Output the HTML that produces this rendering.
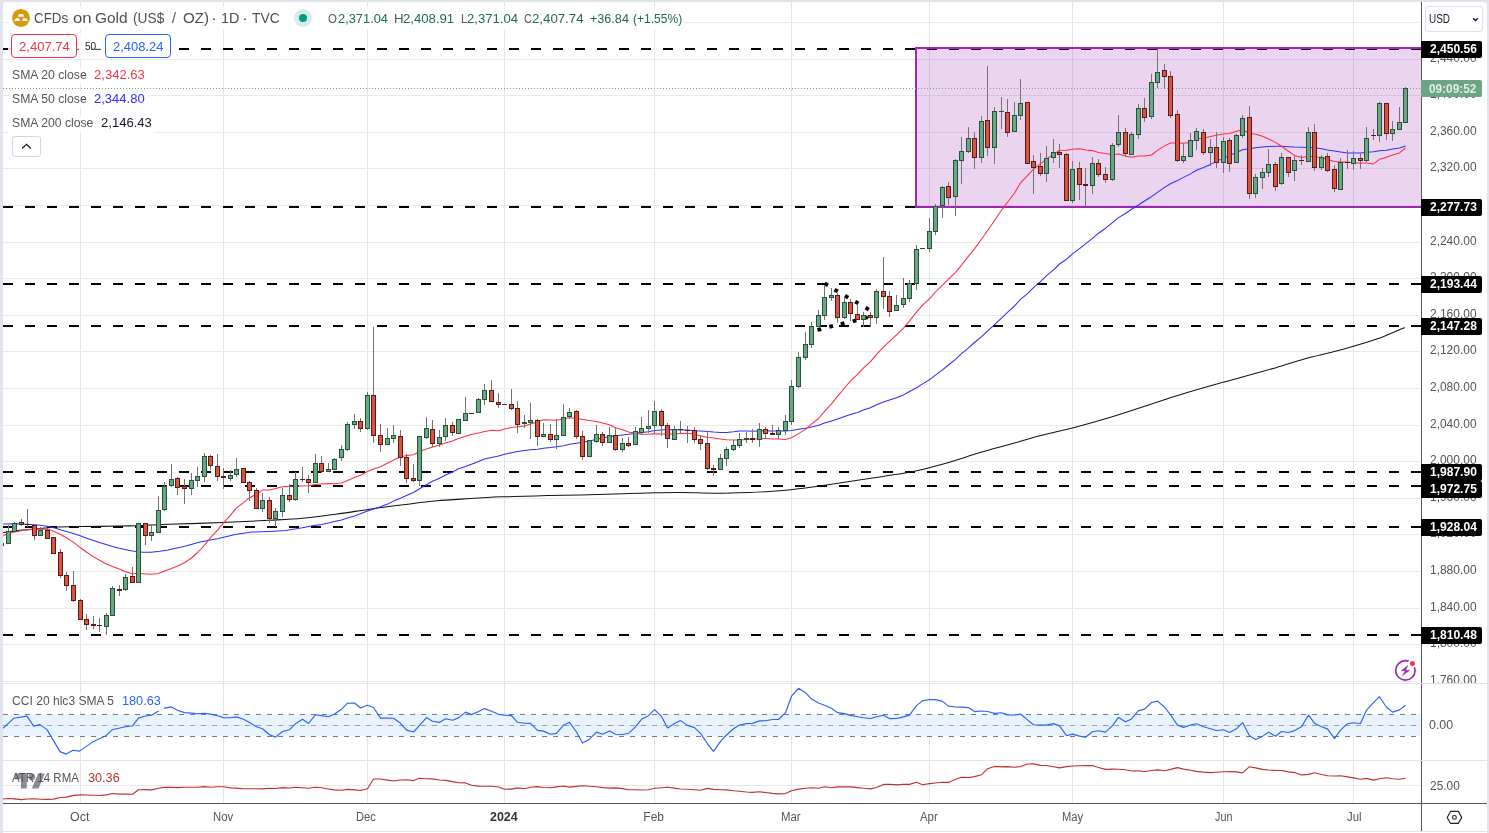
<!DOCTYPE html>
<html><head><meta charset="utf-8"><title>CFDs on Gold</title>
<style>
html,body{margin:0;padding:0;background:#e0e3eb;}
body{width:1489px;height:833px;overflow:hidden;position:relative;font-family:"Liberation Sans",sans-serif;}
#wrap{position:absolute;left:0;top:0;width:1489px;height:833px;background:#e0e3eb;overflow:hidden;}
#inner{position:absolute;left:3px;top:2px;width:1484px;height:829px;background:#fff;border-radius:3px 3px 0 0;}
#bot{position:absolute;left:3px;top:832px;width:1484px;height:1px;background:#fff;}
svg.chart{position:absolute;left:0;top:0;}
.t{position:absolute;white-space:nowrap;line-height:1;transform-origin:0 0;}
.lb{position:absolute;left:1421px;width:61px;height:17px;background:#000;border-radius:0 2px 2px 0;}
.bg{position:absolute;background:rgba(255,255,255,0.85);}
</style></head><body><div id="wrap"><div id="inner"></div><div id="bot"></div>
<svg class="chart" width="1489" height="833" viewBox="0 0 1489 833">
<defs><clipPath id="cm"><rect x="3" y="2" width="1418" height="681"/></clipPath><clipPath id="cc"><rect x="3" y="684" width="1418" height="76"/></clipPath><clipPath id="ca"><rect x="3" y="761" width="1418" height="42"/></clipPath></defs>
<g shape-rendering="crispEdges" fill="#e9e9e9">
<rect x="80" y="2" width="1" height="801" fill="#e4e4e4"/>
<rect x="223" y="2" width="1" height="801" fill="#e4e4e4"/>
<rect x="367" y="2" width="1" height="801" fill="#e4e4e4"/>
<rect x="504" y="2" width="1" height="801" fill="#e4e4e4"/>
<rect x="654" y="2" width="1" height="801" fill="#e4e4e4"/>
<rect x="791" y="2" width="1" height="801" fill="#e4e4e4"/>
<rect x="929" y="2" width="1" height="801" fill="#e4e4e4"/>
<rect x="1072" y="2" width="1" height="801" fill="#e4e4e4"/>
<rect x="1223" y="2" width="1" height="801" fill="#e4e4e4"/>
<rect x="1353" y="2" width="1" height="801" fill="#e4e4e4"/>
<rect x="3" y="681" width="1417" height="1"/>
<rect x="3" y="644" width="1417" height="1"/>
<rect x="3" y="608" width="1417" height="1"/>
<rect x="3" y="571" width="1417" height="1"/>
<rect x="3" y="534" width="1417" height="1"/>
<rect x="3" y="498" width="1417" height="1"/>
<rect x="3" y="461" width="1417" height="1"/>
<rect x="3" y="425" width="1417" height="1"/>
<rect x="3" y="388" width="1417" height="1"/>
<rect x="3" y="351" width="1417" height="1"/>
<rect x="3" y="315" width="1417" height="1"/>
<rect x="3" y="278" width="1417" height="1"/>
<rect x="3" y="242" width="1417" height="1"/>
<rect x="3" y="205" width="1417" height="1"/>
<rect x="3" y="168" width="1417" height="1"/>
<rect x="3" y="132" width="1417" height="1"/>
<rect x="3" y="95" width="1417" height="1"/>
<rect x="3" y="59" width="1417" height="1"/>
<rect x="3" y="22" width="1417" height="1"/>
<rect x="3" y="785" width="1418" height="1"/>
</g>
<rect x="3" y="714" width="1418" height="22" fill="#e8f3fd"/>
<rect x="3" y="725" width="1417" height="1" fill="#e4e6ea" shape-rendering="crispEdges"/>
<line x1="3" x2="1420" y1="714.5" y2="714.5" stroke="#787b86" stroke-width="1" stroke-dasharray="5 6" shape-rendering="crispEdges"/>
<line x1="3" x2="1420" y1="725.5" y2="725.5" stroke="#9a9da6" stroke-width="1" stroke-dasharray="5 6" shape-rendering="crispEdges"/>
<line x1="3" x2="1420" y1="736.5" y2="736.5" stroke="#787b86" stroke-width="1" stroke-dasharray="5 6" shape-rendering="crispEdges"/>
<g clip-path="url(#cm)">
<line x1="3" x2="1421" y1="49" y2="49" stroke="#000" stroke-width="2" stroke-dasharray="10 12" shape-rendering="crispEdges"/>
<line x1="3" x2="1421" y1="207" y2="207" stroke="#000" stroke-width="2" stroke-dasharray="10 12" shape-rendering="crispEdges"/>
<line x1="3" x2="1421" y1="284" y2="284" stroke="#000" stroke-width="2" stroke-dasharray="10 12" shape-rendering="crispEdges"/>
<line x1="3" x2="1421" y1="326" y2="326" stroke="#000" stroke-width="2" stroke-dasharray="10 12" shape-rendering="crispEdges"/>
<line x1="3" x2="1421" y1="472" y2="472" stroke="#000" stroke-width="2" stroke-dasharray="10 12" shape-rendering="crispEdges"/>
<line x1="3" x2="1421" y1="486" y2="486" stroke="#000" stroke-width="2" stroke-dasharray="10 12" shape-rendering="crispEdges"/>
<line x1="3" x2="1421" y1="527" y2="527" stroke="#000" stroke-width="2" stroke-dasharray="10 12" shape-rendering="crispEdges"/>
<line x1="3" x2="1421" y1="635" y2="635" stroke="#000" stroke-width="2" stroke-dasharray="10 12" shape-rendering="crispEdges"/>
<rect x="916" y="48" width="525" height="159" fill="rgba(156,39,176,0.2)" stroke="#9c27b0" stroke-width="2" shape-rendering="crispEdges"/>
<line x1="3" x2="1421" y1="88.5" y2="88.5" stroke="#6BA583" stroke-width="1" stroke-dasharray="1 2" shape-rendering="crispEdges"/>
<rect x="824.4" y="282.4" width="3.8" height="3.8" fill="#000" transform="rotate(30.7 826.3 284.3)"/>
<rect x="834.3" y="288.6" width="3.8" height="3.8" fill="#000" transform="rotate(30.7 836.2 290.5)"/>
<rect x="844.7" y="294.8" width="3.8" height="3.8" fill="#000" transform="rotate(30.7 846.6 296.7)"/>
<rect x="854.9" y="300.6" width="3.8" height="3.8" fill="#000" transform="rotate(30.7 856.8 302.5)"/>
<rect x="865.3" y="306.7" width="3.8" height="3.8" fill="#000" transform="rotate(30.7 867.2 308.6)"/>
<rect x="817.4" y="327.6" width="3.8" height="3.8" fill="#000" transform="rotate(-14.2 819.3 329.5)"/>
<rect x="829.3" y="324.5" width="3.8" height="3.8" fill="#000" transform="rotate(-14.2 831.2 326.4)"/>
<rect x="840.7" y="321.7" width="3.8" height="3.8" fill="#000" transform="rotate(-14.2 842.6 323.6)"/>
<rect x="852.6" y="318.9" width="3.8" height="3.8" fill="#000" transform="rotate(-14.2 854.5 320.8)"/>
<rect x="864.1" y="315.8" width="3.8" height="3.8" fill="#000" transform="rotate(-14.2 866 317.7)"/>
<path d="M3.0 532.6 C4.2 532.4 7.2 532.0 10.0 531.6 C12.8 531.2 16.3 530.7 20.0 530.3 C23.7 529.9 27.8 529.6 32.0 529.2 C36.2 528.8 40.9 528.4 45.0 528.0 C49.1 527.6 50.7 527.2 56.5 527.0 C62.3 526.8 69.4 526.8 80.0 526.6 C90.6 526.5 110.9 526.2 120.0 526.1 C129.1 526.0 126.4 526.0 134.4 525.7 C142.4 525.4 153.4 524.8 168.0 524.3 C182.6 523.8 205.0 523.3 221.8 522.6 C238.6 521.9 255.4 521.0 268.8 520.3 C282.2 519.6 291.2 519.3 302.4 518.3 C313.6 517.3 324.8 515.7 336.0 514.2 C347.2 512.7 358.4 510.8 369.6 509.2 C380.8 507.6 392.0 506.2 403.2 504.8 C414.4 503.4 425.6 501.9 436.8 500.8 C448.0 499.8 459.9 499.2 470.4 498.5 C480.9 497.8 492.8 497.1 500.0 496.8 C507.2 496.5 505.7 496.8 513.6 496.6 C521.5 496.4 536.0 495.9 547.2 495.6 C558.4 495.3 569.6 495.2 580.8 494.9 C592.0 494.6 603.2 494.2 614.4 493.9 C625.6 493.6 636.8 493.1 648.0 492.9 C659.2 492.7 670.4 492.4 681.6 492.5 C692.8 492.6 704.0 493.2 715.2 493.2 C726.4 493.2 737.6 492.9 748.8 492.5 C760.0 492.1 771.2 491.5 782.4 490.5 C793.6 489.5 804.8 488.0 816.0 486.5 C827.2 485.0 838.4 483.2 849.6 481.5 C860.8 479.8 872.0 478.2 883.2 476.4 C894.4 474.6 905.6 473.1 916.8 470.7 C928.0 468.3 939.9 465.0 950.4 462.0 C960.9 459.0 970.5 455.4 980.0 452.6 C989.5 449.8 997.1 447.8 1007.2 445.0 C1017.3 442.2 1029.6 438.5 1040.8 435.6 C1052.0 432.7 1063.2 430.4 1074.4 427.5 C1085.6 424.6 1096.8 421.5 1108.0 418.1 C1119.2 414.7 1130.4 411.0 1141.6 407.3 C1152.8 403.6 1164.0 399.7 1175.2 396.2 C1186.4 392.7 1197.6 389.4 1208.8 386.2 C1220.0 383.0 1231.2 380.2 1242.4 377.1 C1253.6 374.0 1264.8 370.9 1276.0 367.7 C1287.2 364.4 1298.4 360.7 1309.6 357.6 C1320.8 354.5 1332.0 352.3 1343.2 349.2 C1354.4 346.1 1366.5 342.7 1376.8 339.1 C1387.0 335.5 1400.0 329.3 1404.7 327.4" fill="none" stroke="#131313" stroke-width="1.05"/>
<polyline points="3.2,523.9 16.0,523.7 28.0,524.2 40.0,525.2 48.4,526.4 56.5,528.4 61.1,530.0 70.0,532.6 79.6,535.5 86.0,537.9 92.8,540.3 99.5,542.5 106.0,544.5 112.5,546.4 119.3,548.2 126.0,549.7 132.5,550.9 136.4,551.4 142.9,552.3 151.3,552.3 159.7,551.3 168.0,549.9 184.9,546.2 200.0,542.0 218.4,538.4 235.2,534.4 252.0,532.1 268.8,531.4 285.6,530.4 302.4,527.7 314.0,525.4 321.5,524.4 328.5,522.9 334.5,521.5 341.5,520.0 347.5,518.0 354.5,515.9 360.5,513.8 367.5,511.1 373.5,509.0 380.5,506.8 387.5,504.1 393.5,501.1 400.5,498.2 406.5,495.4 413.5,492.5 419.5,488.7 426.5,484.8 432.5,481.3 439.5,478.3 445.5,475.0 452.5,472.1 458.5,468.8 465.5,466.6 471.5,464.2 478.5,461.5 484.5,459.1 491.5,457.4 498.5,455.9 504.5,454.3 511.5,452.7 517.5,451.6 524.5,450.5 530.5,449.8 537.5,449.2 543.5,448.3 550.5,447.6 556.5,446.8 563.5,445.7 569.5,444.3 576.5,443.2 582.5,442.2 589.5,441.0 596.5,439.3 602.5,437.9 609.5,436.7 615.5,435.7 622.5,435.0 628.5,434.3 635.5,433.3 641.5,432.6 648.5,431.7 654.5,430.5 661.5,429.9 667.5,429.6 674.5,429.7 680.5,429.9 687.5,430.0 694.5,430.8 700.5,431.0 707.5,431.5 713.5,432.1 720.5,432.6 726.5,432.4 733.5,431.7 739.5,430.9 746.5,431.0 752.5,431.2 759.5,430.9 765.5,430.8 772.5,431.0 778.5,431.0 785.5,431.0 791.5,430.5 798.5,429.3 805.5,428.2 811.5,427.0 818.5,425.2 824.5,423.1 831.5,420.9 837.5,419.1 844.5,416.6 850.5,414.5 857.5,412.5 863.5,410.0 870.5,407.7 876.5,404.7 883.5,402.0 889.5,399.9 896.5,397.7 903.5,394.9 909.5,391.5 916.5,387.7 922.5,383.9 929.5,379.7 935.5,375.1 942.5,369.9 948.5,365.0 955.5,359.3 961.5,353.7 968.5,347.9 974.5,342.5 981.5,336.7 987.5,331.1 994.5,324.6 1001.5,318.2 1007.5,312.3 1014.5,306.0 1020.5,299.3 1027.5,293.7 1033.5,287.6 1040.5,281.7 1046.5,275.7 1053.5,269.8 1059.5,264.0 1066.5,259.2 1072.5,253.8 1079.5,248.7 1085.5,243.8 1092.5,238.4 1098.5,233.2 1105.5,228.2 1112.5,222.7 1118.5,217.6 1125.5,213.5 1131.5,209.3 1138.5,205.0 1144.5,201.0 1151.5,196.7 1157.5,192.3 1164.5,187.4 1170.5,183.7 1177.5,180.6 1183.5,177.4 1190.5,173.9 1196.5,170.2 1203.5,167.4 1210.5,164.4 1216.5,161.4 1223.5,158.1 1229.5,155.4 1236.5,152.5 1242.5,149.8 1249.5,148.7 1255.5,147.7 1262.5,147.0 1268.5,146.5 1275.5,146.3 1281.5,146.3 1288.5,146.7 1294.5,147.1 1301.5,147.2 1308.5,147.4 1314.5,147.8 1321.5,148.7 1327.5,149.9 1334.5,151.0 1340.5,152.0 1347.5,153.1 1353.5,153.0 1360.5,152.9 1366.5,152.2 1373.5,151.7 1379.5,150.8 1386.5,150.3 1392.5,148.9 1399.5,148.0 1405.5,146.0" fill="none" stroke="#2e2eff" stroke-width="1.05" stroke-linejoin="round"/>
<polyline points="3.2,535.6 12.0,532.4 24.0,530.2 32.0,529.2 40.0,529.0 46.0,529.3 50.6,530.0 59.8,534.0 66.5,537.8 73.0,541.9 79.6,547.2 86.0,551.8 92.8,556.4 99.5,560.3 106.0,563.7 112.5,566.5 119.3,569.0 125.5,571.8 132.5,573.7 138.5,573.3 145.5,573.9 151.5,574.3 158.5,573.6 164.5,571.1 171.5,568.5 177.5,566.0 184.5,562.8 191.5,558.0 197.5,552.5 204.5,545.3 210.5,537.6 217.5,530.2 223.5,522.8 230.5,515.2 236.5,507.9 243.5,502.7 249.5,497.7 256.5,494.2 262.5,490.1 269.5,489.9 275.5,488.6 282.5,486.8 289.5,486.2 295.5,485.9 302.5,485.9 308.5,485.7 315.5,484.4 321.5,484.0 328.5,483.6 334.5,483.8 341.5,483.0 347.5,480.4 354.5,477.6 360.5,475.2 367.5,471.5 373.5,469.1 380.5,466.8 387.5,463.3 393.5,460.1 400.5,457.0 406.5,455.4 413.5,454.7 419.5,451.5 426.5,448.9 432.5,447.1 439.5,444.9 445.5,443.0 452.5,441.0 458.5,438.5 465.5,436.2 471.5,434.4 478.5,433.1 484.5,431.6 491.5,430.2 498.5,430.7 504.5,429.1 511.5,427.4 517.5,426.7 524.5,426.0 530.5,424.1 537.5,422.0 543.5,419.7 550.5,419.9 556.5,420.2 563.5,418.9 569.5,417.7 576.5,418.2 582.5,419.4 589.5,420.5 596.5,421.5 602.5,423.0 609.5,424.8 615.5,427.8 622.5,429.8 628.5,431.9 635.5,433.2 641.5,434.2 648.5,434.3 654.5,433.8 661.5,434.0 667.5,434.1 674.5,433.9 680.5,433.4 687.5,433.2 694.5,434.3 700.5,435.8 707.5,437.4 713.5,438.1 720.5,439.0 726.5,439.8 733.5,439.9 739.5,440.1 746.5,439.5 752.5,439.3 759.5,438.5 765.5,438.6 772.5,439.0 778.5,439.1 785.5,439.6 791.5,437.7 798.5,433.6 805.5,429.4 811.5,424.2 818.5,418.5 824.5,411.3 831.5,403.9 837.5,396.4 844.5,388.0 850.5,380.8 857.5,374.3 863.5,367.8 870.5,361.7 876.5,354.3 883.5,347.2 889.5,341.3 896.5,334.9 903.5,328.1 909.5,320.8 916.5,312.1 922.5,305.2 929.5,298.9 935.5,292.0 942.5,285.1 948.5,279.2 955.5,272.3 961.5,265.1 968.5,256.1 974.5,248.9 981.5,239.3 987.5,230.7 994.5,220.5 1001.5,210.2 1007.5,202.2 1014.5,193.2 1020.5,182.8 1027.5,175.7 1033.5,169.2 1040.5,163.7 1046.5,159.1 1053.5,154.3 1059.5,150.5 1066.5,150.2 1072.5,149.3 1079.5,148.7 1085.5,149.9 1092.5,150.6 1098.5,152.4 1105.5,153.5 1112.5,154.7 1118.5,153.9 1125.5,156.0 1131.5,157.2 1138.5,156.0 1144.5,156.1 1151.5,155.0 1157.5,150.4 1164.5,145.9 1170.5,143.0 1177.5,143.1 1183.5,143.3 1190.5,142.6 1196.5,139.1 1203.5,138.3 1210.5,136.4 1216.5,135.2 1223.5,134.1 1229.5,133.6 1236.5,131.3 1242.5,130.0 1249.5,133.1 1255.5,134.3 1262.5,136.2 1268.5,138.9 1275.5,142.4 1281.5,146.2 1288.5,151.2 1294.5,155.4 1301.5,157.6 1308.5,156.2 1314.5,156.8 1321.5,157.6 1327.5,159.6 1334.5,161.4 1340.5,162.1 1347.5,162.1 1353.5,163.0 1360.5,162.9 1366.5,163.0 1373.5,163.9 1379.5,159.3 1386.5,157.2 1392.5,155.0 1399.5,152.9 1405.5,148.0" fill="none" stroke="#ff2d42" stroke-width="1.05" stroke-linejoin="round"/>
<g shape-rendering="crispEdges">
<rect x="-1" y="543" width="5" height="3" fill="#225437"/>
<rect x="0" y="544" width="3" height="1" fill="#6BA583"/>
<rect x="8" y="525" width="1" height="19" fill="#737375"/>
<rect x="6" y="531" width="5" height="13" fill="#225437"/>
<rect x="7" y="532" width="3" height="11" fill="#6BA583"/>
<rect x="14" y="522" width="1" height="10" fill="#737375"/>
<rect x="12" y="523" width="5" height="9" fill="#225437"/>
<rect x="13" y="524" width="3" height="7" fill="#6BA583"/>
<rect x="21" y="519" width="1" height="7" fill="#737375"/>
<rect x="19" y="522" width="5" height="3" fill="#5B1A13"/>
<rect x="20" y="523" width="3" height="1" fill="#D75442"/>
<rect x="27" y="509" width="1" height="18" fill="#737375"/>
<rect x="25" y="524" width="5" height="1" fill="#5B1A13"/>
<rect x="34" y="524" width="1" height="16" fill="#737375"/>
<rect x="32" y="525" width="5" height="11" fill="#5B1A13"/>
<rect x="33" y="526" width="3" height="9" fill="#D75442"/>
<rect x="40" y="527" width="1" height="9" fill="#737375"/>
<rect x="38" y="530" width="5" height="6" fill="#225437"/>
<rect x="39" y="531" width="3" height="4" fill="#6BA583"/>
<rect x="47" y="528" width="1" height="11" fill="#737375"/>
<rect x="45" y="530" width="5" height="9" fill="#5B1A13"/>
<rect x="46" y="531" width="3" height="7" fill="#D75442"/>
<rect x="51" y="537" width="5" height="17" fill="#5B1A13"/>
<rect x="52" y="538" width="3" height="15" fill="#D75442"/>
<rect x="60" y="549" width="1" height="29" fill="#737375"/>
<rect x="58" y="552" width="5" height="24" fill="#5B1A13"/>
<rect x="59" y="553" width="3" height="22" fill="#D75442"/>
<rect x="66" y="572" width="1" height="19" fill="#737375"/>
<rect x="64" y="575" width="5" height="11" fill="#5B1A13"/>
<rect x="65" y="576" width="3" height="9" fill="#D75442"/>
<rect x="73" y="571" width="1" height="31" fill="#737375"/>
<rect x="71" y="585" width="5" height="16" fill="#5B1A13"/>
<rect x="72" y="586" width="3" height="14" fill="#D75442"/>
<rect x="80" y="599" width="1" height="21" fill="#737375"/>
<rect x="78" y="600" width="5" height="20" fill="#5B1A13"/>
<rect x="79" y="601" width="3" height="18" fill="#D75442"/>
<rect x="86" y="614" width="1" height="16" fill="#737375"/>
<rect x="84" y="619" width="5" height="6" fill="#5B1A13"/>
<rect x="85" y="620" width="3" height="4" fill="#D75442"/>
<rect x="93" y="616" width="1" height="13" fill="#737375"/>
<rect x="91" y="624" width="5" height="2" fill="#5B1A13"/>
<rect x="99" y="618" width="1" height="14" fill="#737375"/>
<rect x="97" y="625" width="5" height="1" fill="#5B1A13"/>
<rect x="106" y="613" width="1" height="22" fill="#737375"/>
<rect x="104" y="615" width="5" height="12" fill="#225437"/>
<rect x="105" y="616" width="3" height="10" fill="#6BA583"/>
<rect x="112" y="586" width="1" height="30" fill="#737375"/>
<rect x="110" y="588" width="5" height="28" fill="#225437"/>
<rect x="111" y="589" width="3" height="26" fill="#6BA583"/>
<rect x="119" y="585" width="1" height="11" fill="#737375"/>
<rect x="117" y="589" width="5" height="2" fill="#5B1A13"/>
<rect x="125" y="574" width="1" height="17" fill="#737375"/>
<rect x="123" y="577" width="5" height="13" fill="#225437"/>
<rect x="124" y="578" width="3" height="11" fill="#6BA583"/>
<rect x="132" y="567" width="1" height="16" fill="#737375"/>
<rect x="130" y="576" width="5" height="7" fill="#5B1A13"/>
<rect x="131" y="577" width="3" height="5" fill="#D75442"/>
<rect x="136" y="523" width="5" height="60" fill="#225437"/>
<rect x="137" y="524" width="3" height="58" fill="#6BA583"/>
<rect x="145" y="523" width="1" height="22" fill="#737375"/>
<rect x="143" y="523" width="5" height="13" fill="#5B1A13"/>
<rect x="144" y="524" width="3" height="11" fill="#D75442"/>
<rect x="151" y="524" width="1" height="17" fill="#737375"/>
<rect x="149" y="532" width="5" height="4" fill="#225437"/>
<rect x="150" y="533" width="3" height="2" fill="#6BA583"/>
<rect x="158" y="496" width="1" height="37" fill="#737375"/>
<rect x="156" y="510" width="5" height="23" fill="#225437"/>
<rect x="157" y="511" width="3" height="21" fill="#6BA583"/>
<rect x="164" y="482" width="1" height="29" fill="#737375"/>
<rect x="162" y="486" width="5" height="24" fill="#225437"/>
<rect x="163" y="487" width="3" height="22" fill="#6BA583"/>
<rect x="171" y="464" width="1" height="23" fill="#737375"/>
<rect x="169" y="479" width="5" height="7" fill="#225437"/>
<rect x="170" y="480" width="3" height="5" fill="#6BA583"/>
<rect x="177" y="477" width="1" height="18" fill="#737375"/>
<rect x="175" y="478" width="5" height="10" fill="#5B1A13"/>
<rect x="176" y="479" width="3" height="8" fill="#D75442"/>
<rect x="184" y="479" width="1" height="25" fill="#737375"/>
<rect x="182" y="486" width="5" height="3" fill="#5B1A13"/>
<rect x="183" y="487" width="3" height="1" fill="#D75442"/>
<rect x="191" y="473" width="1" height="22" fill="#737375"/>
<rect x="189" y="480" width="5" height="9" fill="#225437"/>
<rect x="190" y="481" width="3" height="7" fill="#6BA583"/>
<rect x="197" y="467" width="1" height="20" fill="#737375"/>
<rect x="195" y="476" width="5" height="5" fill="#225437"/>
<rect x="196" y="477" width="3" height="3" fill="#6BA583"/>
<rect x="204" y="453" width="1" height="29" fill="#737375"/>
<rect x="202" y="456" width="5" height="21" fill="#225437"/>
<rect x="203" y="457" width="3" height="19" fill="#6BA583"/>
<rect x="210" y="455" width="1" height="15" fill="#737375"/>
<rect x="208" y="456" width="5" height="10" fill="#5B1A13"/>
<rect x="209" y="457" width="3" height="8" fill="#D75442"/>
<rect x="217" y="454" width="1" height="27" fill="#737375"/>
<rect x="215" y="466" width="5" height="11" fill="#5B1A13"/>
<rect x="216" y="467" width="3" height="9" fill="#D75442"/>
<rect x="223" y="468" width="1" height="21" fill="#737375"/>
<rect x="221" y="476" width="5" height="2" fill="#5B1A13"/>
<rect x="230" y="470" width="1" height="11" fill="#737375"/>
<rect x="228" y="475" width="5" height="4" fill="#225437"/>
<rect x="229" y="476" width="3" height="2" fill="#6BA583"/>
<rect x="236" y="458" width="1" height="19" fill="#737375"/>
<rect x="234" y="469" width="5" height="6" fill="#225437"/>
<rect x="235" y="470" width="3" height="4" fill="#6BA583"/>
<rect x="241" y="468" width="5" height="15" fill="#5B1A13"/>
<rect x="242" y="469" width="3" height="13" fill="#D75442"/>
<rect x="249" y="481" width="1" height="20" fill="#737375"/>
<rect x="247" y="482" width="5" height="9" fill="#5B1A13"/>
<rect x="248" y="483" width="3" height="7" fill="#D75442"/>
<rect x="256" y="488" width="1" height="21" fill="#737375"/>
<rect x="254" y="490" width="5" height="19" fill="#5B1A13"/>
<rect x="255" y="491" width="3" height="17" fill="#D75442"/>
<rect x="262" y="493" width="1" height="19" fill="#737375"/>
<rect x="260" y="500" width="5" height="9" fill="#225437"/>
<rect x="261" y="501" width="3" height="7" fill="#6BA583"/>
<rect x="269" y="497" width="1" height="26" fill="#737375"/>
<rect x="267" y="500" width="5" height="19" fill="#5B1A13"/>
<rect x="268" y="501" width="3" height="17" fill="#D75442"/>
<rect x="275" y="508" width="1" height="19" fill="#737375"/>
<rect x="273" y="511" width="5" height="8" fill="#225437"/>
<rect x="274" y="512" width="3" height="6" fill="#6BA583"/>
<rect x="282" y="488" width="1" height="29" fill="#737375"/>
<rect x="280" y="495" width="5" height="17" fill="#225437"/>
<rect x="281" y="496" width="3" height="15" fill="#6BA583"/>
<rect x="289" y="484" width="1" height="18" fill="#737375"/>
<rect x="287" y="495" width="5" height="5" fill="#5B1A13"/>
<rect x="288" y="496" width="3" height="3" fill="#D75442"/>
<rect x="295" y="472" width="1" height="29" fill="#737375"/>
<rect x="293" y="479" width="5" height="21" fill="#225437"/>
<rect x="294" y="480" width="3" height="19" fill="#6BA583"/>
<rect x="302" y="467" width="1" height="15" fill="#737375"/>
<rect x="300" y="479" width="5" height="1" fill="#5B1A13"/>
<rect x="308" y="475" width="1" height="18" fill="#737375"/>
<rect x="306" y="479" width="5" height="4" fill="#5B1A13"/>
<rect x="307" y="480" width="3" height="2" fill="#D75442"/>
<rect x="315" y="454" width="1" height="29" fill="#737375"/>
<rect x="313" y="463" width="5" height="20" fill="#225437"/>
<rect x="314" y="464" width="3" height="18" fill="#6BA583"/>
<rect x="321" y="456" width="1" height="17" fill="#737375"/>
<rect x="319" y="463" width="5" height="9" fill="#5B1A13"/>
<rect x="320" y="464" width="3" height="7" fill="#D75442"/>
<rect x="328" y="463" width="1" height="9" fill="#737375"/>
<rect x="326" y="469" width="5" height="3" fill="#225437"/>
<rect x="327" y="470" width="3" height="1" fill="#6BA583"/>
<rect x="334" y="458" width="1" height="12" fill="#737375"/>
<rect x="332" y="459" width="5" height="11" fill="#225437"/>
<rect x="333" y="460" width="3" height="9" fill="#6BA583"/>
<rect x="341" y="445" width="1" height="16" fill="#737375"/>
<rect x="339" y="449" width="5" height="9" fill="#225437"/>
<rect x="340" y="450" width="3" height="7" fill="#6BA583"/>
<rect x="347" y="422" width="1" height="29" fill="#737375"/>
<rect x="345" y="424" width="5" height="26" fill="#225437"/>
<rect x="346" y="425" width="3" height="24" fill="#6BA583"/>
<rect x="354" y="414" width="1" height="15" fill="#737375"/>
<rect x="352" y="421" width="5" height="4" fill="#225437"/>
<rect x="353" y="422" width="3" height="2" fill="#6BA583"/>
<rect x="360" y="418" width="1" height="14" fill="#737375"/>
<rect x="358" y="421" width="5" height="8" fill="#5B1A13"/>
<rect x="359" y="422" width="3" height="6" fill="#D75442"/>
<rect x="367" y="392" width="1" height="38" fill="#737375"/>
<rect x="365" y="395" width="5" height="34" fill="#225437"/>
<rect x="366" y="396" width="3" height="32" fill="#6BA583"/>
<rect x="373" y="327" width="1" height="116" fill="#737375"/>
<rect x="371" y="395" width="5" height="41" fill="#5B1A13"/>
<rect x="372" y="396" width="3" height="39" fill="#D75442"/>
<rect x="380" y="424" width="1" height="28" fill="#737375"/>
<rect x="378" y="435" width="5" height="10" fill="#5B1A13"/>
<rect x="379" y="436" width="3" height="8" fill="#D75442"/>
<rect x="387" y="428" width="1" height="17" fill="#737375"/>
<rect x="385" y="438" width="5" height="7" fill="#225437"/>
<rect x="386" y="439" width="3" height="5" fill="#6BA583"/>
<rect x="393" y="425" width="1" height="18" fill="#737375"/>
<rect x="391" y="435" width="5" height="4" fill="#225437"/>
<rect x="392" y="436" width="3" height="2" fill="#6BA583"/>
<rect x="400" y="430" width="1" height="36" fill="#737375"/>
<rect x="398" y="436" width="5" height="22" fill="#5B1A13"/>
<rect x="399" y="437" width="3" height="20" fill="#D75442"/>
<rect x="406" y="454" width="1" height="29" fill="#737375"/>
<rect x="404" y="457" width="5" height="22" fill="#5B1A13"/>
<rect x="405" y="458" width="3" height="20" fill="#D75442"/>
<rect x="413" y="464" width="1" height="18" fill="#737375"/>
<rect x="411" y="478" width="5" height="3" fill="#5B1A13"/>
<rect x="412" y="479" width="3" height="1" fill="#D75442"/>
<rect x="419" y="436" width="1" height="50" fill="#737375"/>
<rect x="417" y="436" width="5" height="45" fill="#225437"/>
<rect x="418" y="437" width="3" height="43" fill="#6BA583"/>
<rect x="426" y="417" width="1" height="22" fill="#737375"/>
<rect x="424" y="428" width="5" height="10" fill="#225437"/>
<rect x="425" y="429" width="3" height="8" fill="#6BA583"/>
<rect x="432" y="420" width="1" height="27" fill="#737375"/>
<rect x="430" y="429" width="5" height="15" fill="#5B1A13"/>
<rect x="431" y="430" width="3" height="13" fill="#D75442"/>
<rect x="439" y="430" width="1" height="17" fill="#737375"/>
<rect x="437" y="437" width="5" height="7" fill="#225437"/>
<rect x="438" y="438" width="3" height="5" fill="#6BA583"/>
<rect x="445" y="418" width="1" height="23" fill="#737375"/>
<rect x="443" y="425" width="5" height="12" fill="#225437"/>
<rect x="444" y="426" width="3" height="10" fill="#6BA583"/>
<rect x="452" y="422" width="1" height="14" fill="#737375"/>
<rect x="450" y="425" width="5" height="8" fill="#5B1A13"/>
<rect x="451" y="426" width="3" height="6" fill="#D75442"/>
<rect x="456" y="419" width="5" height="15" fill="#225437"/>
<rect x="457" y="420" width="3" height="13" fill="#6BA583"/>
<rect x="465" y="397" width="1" height="24" fill="#737375"/>
<rect x="463" y="413" width="5" height="8" fill="#225437"/>
<rect x="464" y="414" width="3" height="6" fill="#6BA583"/>
<rect x="469" y="413" width="5" height="1" fill="#5B1A13"/>
<rect x="478" y="398" width="1" height="15" fill="#737375"/>
<rect x="476" y="399" width="5" height="14" fill="#225437"/>
<rect x="477" y="400" width="3" height="12" fill="#6BA583"/>
<rect x="484" y="384" width="1" height="21" fill="#737375"/>
<rect x="482" y="390" width="5" height="10" fill="#225437"/>
<rect x="483" y="391" width="3" height="8" fill="#6BA583"/>
<rect x="491" y="380" width="1" height="22" fill="#737375"/>
<rect x="489" y="390" width="5" height="12" fill="#5B1A13"/>
<rect x="490" y="391" width="3" height="10" fill="#D75442"/>
<rect x="498" y="393" width="1" height="15" fill="#737375"/>
<rect x="496" y="402" width="5" height="3" fill="#5B1A13"/>
<rect x="497" y="403" width="3" height="1" fill="#D75442"/>
<rect x="502" y="404" width="5" height="1" fill="#225437"/>
<rect x="511" y="389" width="1" height="21" fill="#737375"/>
<rect x="509" y="404" width="5" height="5" fill="#5B1A13"/>
<rect x="510" y="405" width="3" height="3" fill="#D75442"/>
<rect x="517" y="401" width="1" height="32" fill="#737375"/>
<rect x="515" y="408" width="5" height="17" fill="#5B1A13"/>
<rect x="516" y="409" width="3" height="15" fill="#D75442"/>
<rect x="524" y="415" width="1" height="13" fill="#737375"/>
<rect x="522" y="422" width="5" height="2" fill="#225437"/>
<rect x="530" y="403" width="1" height="36" fill="#737375"/>
<rect x="528" y="420" width="5" height="3" fill="#225437"/>
<rect x="529" y="421" width="3" height="1" fill="#6BA583"/>
<rect x="537" y="419" width="1" height="27" fill="#737375"/>
<rect x="535" y="420" width="5" height="17" fill="#5B1A13"/>
<rect x="536" y="421" width="3" height="15" fill="#D75442"/>
<rect x="543" y="423" width="1" height="14" fill="#737375"/>
<rect x="541" y="434" width="5" height="3" fill="#225437"/>
<rect x="542" y="435" width="3" height="1" fill="#6BA583"/>
<rect x="550" y="424" width="1" height="18" fill="#737375"/>
<rect x="548" y="434" width="5" height="6" fill="#5B1A13"/>
<rect x="549" y="435" width="3" height="4" fill="#D75442"/>
<rect x="556" y="419" width="1" height="30" fill="#737375"/>
<rect x="554" y="435" width="5" height="5" fill="#225437"/>
<rect x="555" y="436" width="3" height="3" fill="#6BA583"/>
<rect x="563" y="404" width="1" height="32" fill="#737375"/>
<rect x="561" y="417" width="5" height="19" fill="#225437"/>
<rect x="562" y="418" width="3" height="17" fill="#6BA583"/>
<rect x="569" y="408" width="1" height="11" fill="#737375"/>
<rect x="567" y="412" width="5" height="5" fill="#225437"/>
<rect x="568" y="413" width="3" height="3" fill="#6BA583"/>
<rect x="576" y="410" width="1" height="29" fill="#737375"/>
<rect x="574" y="411" width="5" height="26" fill="#5B1A13"/>
<rect x="575" y="412" width="3" height="24" fill="#D75442"/>
<rect x="582" y="431" width="1" height="29" fill="#737375"/>
<rect x="580" y="436" width="5" height="21" fill="#5B1A13"/>
<rect x="581" y="437" width="3" height="19" fill="#D75442"/>
<rect x="587" y="440" width="5" height="17" fill="#225437"/>
<rect x="588" y="441" width="3" height="15" fill="#6BA583"/>
<rect x="596" y="425" width="1" height="18" fill="#737375"/>
<rect x="594" y="434" width="5" height="8" fill="#225437"/>
<rect x="595" y="435" width="3" height="6" fill="#6BA583"/>
<rect x="602" y="432" width="1" height="14" fill="#737375"/>
<rect x="600" y="434" width="5" height="9" fill="#5B1A13"/>
<rect x="601" y="435" width="3" height="7" fill="#D75442"/>
<rect x="609" y="427" width="1" height="16" fill="#737375"/>
<rect x="607" y="435" width="5" height="8" fill="#225437"/>
<rect x="608" y="436" width="3" height="6" fill="#6BA583"/>
<rect x="615" y="428" width="1" height="23" fill="#737375"/>
<rect x="613" y="435" width="5" height="15" fill="#5B1A13"/>
<rect x="614" y="436" width="3" height="13" fill="#D75442"/>
<rect x="622" y="438" width="1" height="14" fill="#737375"/>
<rect x="620" y="443" width="5" height="7" fill="#225437"/>
<rect x="621" y="444" width="3" height="5" fill="#6BA583"/>
<rect x="628" y="437" width="1" height="10" fill="#737375"/>
<rect x="626" y="443" width="5" height="3" fill="#5B1A13"/>
<rect x="627" y="444" width="3" height="1" fill="#D75442"/>
<rect x="635" y="427" width="1" height="18" fill="#737375"/>
<rect x="633" y="431" width="5" height="14" fill="#225437"/>
<rect x="634" y="432" width="3" height="12" fill="#6BA583"/>
<rect x="641" y="417" width="1" height="18" fill="#737375"/>
<rect x="639" y="428" width="5" height="5" fill="#225437"/>
<rect x="640" y="429" width="3" height="3" fill="#6BA583"/>
<rect x="648" y="410" width="1" height="23" fill="#737375"/>
<rect x="646" y="426" width="5" height="3" fill="#225437"/>
<rect x="647" y="427" width="3" height="1" fill="#6BA583"/>
<rect x="654" y="401" width="1" height="33" fill="#737375"/>
<rect x="652" y="411" width="5" height="15" fill="#225437"/>
<rect x="653" y="412" width="3" height="13" fill="#6BA583"/>
<rect x="661" y="409" width="1" height="27" fill="#737375"/>
<rect x="659" y="411" width="5" height="15" fill="#5B1A13"/>
<rect x="660" y="412" width="3" height="13" fill="#D75442"/>
<rect x="667" y="423" width="1" height="25" fill="#737375"/>
<rect x="665" y="425" width="5" height="14" fill="#5B1A13"/>
<rect x="666" y="426" width="3" height="12" fill="#D75442"/>
<rect x="674" y="426" width="1" height="14" fill="#737375"/>
<rect x="672" y="429" width="5" height="11" fill="#225437"/>
<rect x="673" y="430" width="3" height="9" fill="#6BA583"/>
<rect x="680" y="421" width="1" height="12" fill="#737375"/>
<rect x="678" y="429" width="5" height="1" fill="#5B1A13"/>
<rect x="687" y="426" width="1" height="17" fill="#737375"/>
<rect x="685" y="430" width="5" height="1" fill="#5B1A13"/>
<rect x="694" y="427" width="1" height="16" fill="#737375"/>
<rect x="692" y="430" width="5" height="10" fill="#5B1A13"/>
<rect x="693" y="431" width="3" height="8" fill="#D75442"/>
<rect x="700" y="436" width="1" height="14" fill="#737375"/>
<rect x="698" y="439" width="5" height="5" fill="#5B1A13"/>
<rect x="699" y="440" width="3" height="3" fill="#D75442"/>
<rect x="707" y="431" width="1" height="39" fill="#737375"/>
<rect x="705" y="443" width="5" height="26" fill="#5B1A13"/>
<rect x="706" y="444" width="3" height="24" fill="#D75442"/>
<rect x="713" y="465" width="1" height="11" fill="#737375"/>
<rect x="711" y="468" width="5" height="2" fill="#5B1A13"/>
<rect x="720" y="454" width="1" height="16" fill="#737375"/>
<rect x="718" y="458" width="5" height="12" fill="#225437"/>
<rect x="719" y="459" width="3" height="10" fill="#6BA583"/>
<rect x="726" y="447" width="1" height="19" fill="#737375"/>
<rect x="724" y="449" width="5" height="10" fill="#225437"/>
<rect x="725" y="450" width="3" height="8" fill="#6BA583"/>
<rect x="733" y="440" width="1" height="11" fill="#737375"/>
<rect x="731" y="445" width="5" height="5" fill="#225437"/>
<rect x="732" y="446" width="3" height="3" fill="#6BA583"/>
<rect x="739" y="433" width="1" height="15" fill="#737375"/>
<rect x="737" y="439" width="5" height="7" fill="#225437"/>
<rect x="738" y="440" width="3" height="5" fill="#6BA583"/>
<rect x="746" y="432" width="1" height="11" fill="#737375"/>
<rect x="744" y="438" width="5" height="2" fill="#225437"/>
<rect x="752" y="429" width="1" height="14" fill="#737375"/>
<rect x="750" y="438" width="5" height="2" fill="#5B1A13"/>
<rect x="759" y="423" width="1" height="24" fill="#737375"/>
<rect x="757" y="429" width="5" height="11" fill="#225437"/>
<rect x="758" y="430" width="3" height="9" fill="#6BA583"/>
<rect x="765" y="427" width="1" height="11" fill="#737375"/>
<rect x="763" y="429" width="5" height="5" fill="#5B1A13"/>
<rect x="764" y="430" width="3" height="3" fill="#D75442"/>
<rect x="772" y="425" width="1" height="10" fill="#737375"/>
<rect x="770" y="433" width="5" height="2" fill="#5B1A13"/>
<rect x="778" y="427" width="1" height="12" fill="#737375"/>
<rect x="776" y="430" width="5" height="5" fill="#225437"/>
<rect x="777" y="431" width="3" height="3" fill="#6BA583"/>
<rect x="785" y="415" width="1" height="20" fill="#737375"/>
<rect x="783" y="421" width="5" height="10" fill="#225437"/>
<rect x="784" y="422" width="3" height="8" fill="#6BA583"/>
<rect x="791" y="380" width="1" height="45" fill="#737375"/>
<rect x="789" y="386" width="5" height="36" fill="#225437"/>
<rect x="790" y="387" width="3" height="34" fill="#6BA583"/>
<rect x="798" y="352" width="1" height="36" fill="#737375"/>
<rect x="796" y="357" width="5" height="30" fill="#225437"/>
<rect x="797" y="358" width="3" height="28" fill="#6BA583"/>
<rect x="805" y="332" width="1" height="28" fill="#737375"/>
<rect x="803" y="344" width="5" height="14" fill="#225437"/>
<rect x="804" y="345" width="3" height="12" fill="#6BA583"/>
<rect x="811" y="322" width="1" height="26" fill="#737375"/>
<rect x="809" y="326" width="5" height="19" fill="#225437"/>
<rect x="810" y="327" width="3" height="17" fill="#6BA583"/>
<rect x="818" y="310" width="1" height="17" fill="#737375"/>
<rect x="816" y="315" width="5" height="12" fill="#225437"/>
<rect x="817" y="316" width="3" height="10" fill="#6BA583"/>
<rect x="824" y="285" width="1" height="35" fill="#737375"/>
<rect x="822" y="297" width="5" height="19" fill="#225437"/>
<rect x="823" y="298" width="3" height="17" fill="#6BA583"/>
<rect x="831" y="288" width="1" height="13" fill="#737375"/>
<rect x="829" y="295" width="5" height="3" fill="#225437"/>
<rect x="830" y="296" width="3" height="1" fill="#6BA583"/>
<rect x="837" y="293" width="1" height="30" fill="#737375"/>
<rect x="835" y="295" width="5" height="23" fill="#5B1A13"/>
<rect x="836" y="296" width="3" height="21" fill="#D75442"/>
<rect x="844" y="298" width="1" height="21" fill="#737375"/>
<rect x="842" y="302" width="5" height="16" fill="#225437"/>
<rect x="843" y="303" width="3" height="14" fill="#6BA583"/>
<rect x="850" y="299" width="1" height="22" fill="#737375"/>
<rect x="848" y="302" width="5" height="12" fill="#5B1A13"/>
<rect x="849" y="303" width="3" height="10" fill="#D75442"/>
<rect x="857" y="304" width="1" height="16" fill="#737375"/>
<rect x="855" y="314" width="5" height="6" fill="#5B1A13"/>
<rect x="856" y="315" width="3" height="4" fill="#D75442"/>
<rect x="863" y="312" width="1" height="15" fill="#737375"/>
<rect x="861" y="315" width="5" height="5" fill="#225437"/>
<rect x="862" y="316" width="3" height="3" fill="#6BA583"/>
<rect x="870" y="312" width="1" height="15" fill="#737375"/>
<rect x="868" y="315" width="5" height="3" fill="#5B1A13"/>
<rect x="869" y="316" width="3" height="1" fill="#D75442"/>
<rect x="876" y="289" width="1" height="35" fill="#737375"/>
<rect x="874" y="291" width="5" height="27" fill="#225437"/>
<rect x="875" y="292" width="3" height="25" fill="#6BA583"/>
<rect x="883" y="257" width="1" height="52" fill="#737375"/>
<rect x="881" y="291" width="5" height="6" fill="#5B1A13"/>
<rect x="882" y="292" width="3" height="4" fill="#D75442"/>
<rect x="889" y="291" width="1" height="26" fill="#737375"/>
<rect x="887" y="296" width="5" height="16" fill="#5B1A13"/>
<rect x="888" y="297" width="3" height="14" fill="#D75442"/>
<rect x="896" y="295" width="1" height="16" fill="#737375"/>
<rect x="894" y="305" width="5" height="6" fill="#225437"/>
<rect x="895" y="306" width="3" height="4" fill="#6BA583"/>
<rect x="903" y="278" width="1" height="30" fill="#737375"/>
<rect x="901" y="298" width="5" height="7" fill="#225437"/>
<rect x="902" y="299" width="3" height="5" fill="#6BA583"/>
<rect x="909" y="280" width="1" height="22" fill="#737375"/>
<rect x="907" y="283" width="5" height="16" fill="#225437"/>
<rect x="908" y="284" width="3" height="14" fill="#6BA583"/>
<rect x="916" y="245" width="1" height="45" fill="#737375"/>
<rect x="914" y="249" width="5" height="35" fill="#225437"/>
<rect x="915" y="250" width="3" height="33" fill="#6BA583"/>
<rect x="920" y="248" width="5" height="1" fill="#225437"/>
<rect x="929" y="218" width="1" height="34" fill="#737375"/>
<rect x="927" y="231" width="5" height="18" fill="#225437"/>
<rect x="928" y="232" width="3" height="16" fill="#6BA583"/>
<rect x="935" y="204" width="1" height="31" fill="#737375"/>
<rect x="933" y="206" width="5" height="26" fill="#225437"/>
<rect x="934" y="207" width="3" height="24" fill="#6BA583"/>
<rect x="942" y="186" width="1" height="32" fill="#737375"/>
<rect x="940" y="187" width="5" height="19" fill="#225437"/>
<rect x="941" y="188" width="3" height="17" fill="#6BA583"/>
<rect x="948" y="182" width="1" height="23" fill="#737375"/>
<rect x="946" y="186" width="5" height="12" fill="#5B1A13"/>
<rect x="947" y="187" width="3" height="10" fill="#D75442"/>
<rect x="955" y="159" width="1" height="57" fill="#737375"/>
<rect x="953" y="160" width="5" height="37" fill="#225437"/>
<rect x="954" y="161" width="3" height="35" fill="#6BA583"/>
<rect x="961" y="137" width="1" height="47" fill="#737375"/>
<rect x="959" y="151" width="5" height="10" fill="#225437"/>
<rect x="960" y="152" width="3" height="8" fill="#6BA583"/>
<rect x="968" y="127" width="1" height="26" fill="#737375"/>
<rect x="966" y="138" width="5" height="14" fill="#225437"/>
<rect x="967" y="139" width="3" height="12" fill="#6BA583"/>
<rect x="974" y="132" width="1" height="37" fill="#737375"/>
<rect x="972" y="138" width="5" height="20" fill="#5B1A13"/>
<rect x="973" y="139" width="3" height="18" fill="#D75442"/>
<rect x="981" y="116" width="1" height="47" fill="#737375"/>
<rect x="979" y="121" width="5" height="37" fill="#225437"/>
<rect x="980" y="122" width="3" height="35" fill="#6BA583"/>
<rect x="987" y="66" width="1" height="90" fill="#737375"/>
<rect x="985" y="120" width="5" height="28" fill="#5B1A13"/>
<rect x="986" y="121" width="3" height="26" fill="#D75442"/>
<rect x="994" y="107" width="1" height="57" fill="#737375"/>
<rect x="992" y="111" width="5" height="37" fill="#225437"/>
<rect x="993" y="112" width="3" height="35" fill="#6BA583"/>
<rect x="1001" y="97" width="1" height="32" fill="#737375"/>
<rect x="999" y="111" width="5" height="1" fill="#225437"/>
<rect x="1007" y="99" width="1" height="38" fill="#737375"/>
<rect x="1005" y="112" width="5" height="21" fill="#5B1A13"/>
<rect x="1006" y="113" width="3" height="19" fill="#D75442"/>
<rect x="1014" y="102" width="1" height="30" fill="#737375"/>
<rect x="1012" y="115" width="5" height="17" fill="#225437"/>
<rect x="1013" y="116" width="3" height="15" fill="#6BA583"/>
<rect x="1020" y="79" width="1" height="41" fill="#737375"/>
<rect x="1018" y="103" width="5" height="13" fill="#225437"/>
<rect x="1019" y="104" width="3" height="11" fill="#6BA583"/>
<rect x="1025" y="102" width="5" height="62" fill="#5B1A13"/>
<rect x="1026" y="103" width="3" height="60" fill="#D75442"/>
<rect x="1033" y="155" width="1" height="39" fill="#737375"/>
<rect x="1031" y="161" width="5" height="7" fill="#5B1A13"/>
<rect x="1032" y="162" width="3" height="5" fill="#D75442"/>
<rect x="1040" y="153" width="1" height="23" fill="#737375"/>
<rect x="1038" y="166" width="5" height="8" fill="#5B1A13"/>
<rect x="1039" y="167" width="3" height="6" fill="#D75442"/>
<rect x="1046" y="146" width="1" height="36" fill="#737375"/>
<rect x="1044" y="158" width="5" height="16" fill="#225437"/>
<rect x="1045" y="159" width="3" height="14" fill="#6BA583"/>
<rect x="1053" y="139" width="1" height="24" fill="#737375"/>
<rect x="1051" y="152" width="5" height="6" fill="#225437"/>
<rect x="1052" y="153" width="3" height="4" fill="#6BA583"/>
<rect x="1059" y="144" width="1" height="24" fill="#737375"/>
<rect x="1057" y="152" width="5" height="3" fill="#5B1A13"/>
<rect x="1058" y="153" width="3" height="1" fill="#D75442"/>
<rect x="1066" y="153" width="1" height="48" fill="#737375"/>
<rect x="1064" y="154" width="5" height="47" fill="#5B1A13"/>
<rect x="1065" y="155" width="3" height="45" fill="#D75442"/>
<rect x="1072" y="161" width="1" height="42" fill="#737375"/>
<rect x="1070" y="169" width="5" height="32" fill="#225437"/>
<rect x="1071" y="170" width="3" height="30" fill="#6BA583"/>
<rect x="1079" y="162" width="1" height="38" fill="#737375"/>
<rect x="1077" y="168" width="5" height="17" fill="#5B1A13"/>
<rect x="1078" y="169" width="3" height="15" fill="#D75442"/>
<rect x="1085" y="168" width="1" height="39" fill="#737375"/>
<rect x="1083" y="184" width="5" height="2" fill="#5B1A13"/>
<rect x="1092" y="157" width="1" height="37" fill="#737375"/>
<rect x="1090" y="163" width="5" height="23" fill="#225437"/>
<rect x="1091" y="164" width="3" height="21" fill="#6BA583"/>
<rect x="1098" y="159" width="1" height="18" fill="#737375"/>
<rect x="1096" y="163" width="5" height="12" fill="#5B1A13"/>
<rect x="1097" y="164" width="3" height="10" fill="#D75442"/>
<rect x="1105" y="167" width="1" height="16" fill="#737375"/>
<rect x="1103" y="174" width="5" height="6" fill="#5B1A13"/>
<rect x="1104" y="175" width="3" height="4" fill="#D75442"/>
<rect x="1112" y="143" width="1" height="38" fill="#737375"/>
<rect x="1110" y="145" width="5" height="35" fill="#225437"/>
<rect x="1111" y="146" width="3" height="33" fill="#6BA583"/>
<rect x="1118" y="115" width="1" height="32" fill="#737375"/>
<rect x="1116" y="132" width="5" height="13" fill="#225437"/>
<rect x="1117" y="133" width="3" height="11" fill="#6BA583"/>
<rect x="1125" y="128" width="1" height="29" fill="#737375"/>
<rect x="1123" y="132" width="5" height="22" fill="#5B1A13"/>
<rect x="1124" y="133" width="3" height="20" fill="#D75442"/>
<rect x="1131" y="132" width="1" height="23" fill="#737375"/>
<rect x="1129" y="134" width="5" height="21" fill="#225437"/>
<rect x="1130" y="135" width="3" height="19" fill="#6BA583"/>
<rect x="1138" y="104" width="1" height="35" fill="#737375"/>
<rect x="1136" y="108" width="5" height="27" fill="#225437"/>
<rect x="1137" y="109" width="3" height="25" fill="#6BA583"/>
<rect x="1144" y="98" width="1" height="24" fill="#737375"/>
<rect x="1142" y="108" width="5" height="10" fill="#5B1A13"/>
<rect x="1143" y="109" width="3" height="8" fill="#D75442"/>
<rect x="1151" y="74" width="1" height="45" fill="#737375"/>
<rect x="1149" y="82" width="5" height="35" fill="#225437"/>
<rect x="1150" y="83" width="3" height="33" fill="#6BA583"/>
<rect x="1157" y="49" width="1" height="39" fill="#737375"/>
<rect x="1155" y="72" width="5" height="11" fill="#225437"/>
<rect x="1156" y="73" width="3" height="9" fill="#6BA583"/>
<rect x="1164" y="64" width="1" height="25" fill="#737375"/>
<rect x="1162" y="70" width="5" height="7" fill="#5B1A13"/>
<rect x="1163" y="71" width="3" height="5" fill="#D75442"/>
<rect x="1170" y="71" width="1" height="47" fill="#737375"/>
<rect x="1168" y="76" width="5" height="40" fill="#5B1A13"/>
<rect x="1169" y="77" width="3" height="38" fill="#D75442"/>
<rect x="1177" y="110" width="1" height="52" fill="#737375"/>
<rect x="1175" y="114" width="5" height="47" fill="#5B1A13"/>
<rect x="1176" y="115" width="3" height="45" fill="#D75442"/>
<rect x="1183" y="143" width="1" height="20" fill="#737375"/>
<rect x="1181" y="156" width="5" height="5" fill="#225437"/>
<rect x="1182" y="157" width="3" height="3" fill="#6BA583"/>
<rect x="1190" y="133" width="1" height="24" fill="#737375"/>
<rect x="1188" y="140" width="5" height="17" fill="#225437"/>
<rect x="1189" y="141" width="3" height="15" fill="#6BA583"/>
<rect x="1196" y="128" width="1" height="22" fill="#737375"/>
<rect x="1194" y="131" width="5" height="10" fill="#225437"/>
<rect x="1195" y="132" width="3" height="8" fill="#6BA583"/>
<rect x="1203" y="129" width="1" height="26" fill="#737375"/>
<rect x="1201" y="132" width="5" height="21" fill="#5B1A13"/>
<rect x="1202" y="133" width="3" height="19" fill="#D75442"/>
<rect x="1210" y="139" width="1" height="27" fill="#737375"/>
<rect x="1208" y="147" width="5" height="6" fill="#225437"/>
<rect x="1209" y="148" width="3" height="4" fill="#6BA583"/>
<rect x="1216" y="132" width="1" height="36" fill="#737375"/>
<rect x="1214" y="147" width="5" height="16" fill="#5B1A13"/>
<rect x="1215" y="148" width="3" height="14" fill="#D75442"/>
<rect x="1223" y="137" width="1" height="36" fill="#737375"/>
<rect x="1221" y="141" width="5" height="22" fill="#225437"/>
<rect x="1222" y="142" width="3" height="20" fill="#6BA583"/>
<rect x="1229" y="138" width="1" height="34" fill="#737375"/>
<rect x="1227" y="140" width="5" height="24" fill="#5B1A13"/>
<rect x="1228" y="141" width="3" height="22" fill="#D75442"/>
<rect x="1236" y="134" width="1" height="29" fill="#737375"/>
<rect x="1234" y="135" width="5" height="28" fill="#225437"/>
<rect x="1235" y="136" width="3" height="26" fill="#6BA583"/>
<rect x="1242" y="115" width="1" height="23" fill="#737375"/>
<rect x="1240" y="118" width="5" height="18" fill="#225437"/>
<rect x="1241" y="119" width="3" height="16" fill="#6BA583"/>
<rect x="1249" y="106" width="1" height="93" fill="#737375"/>
<rect x="1247" y="117" width="5" height="77" fill="#5B1A13"/>
<rect x="1248" y="118" width="3" height="75" fill="#D75442"/>
<rect x="1255" y="174" width="1" height="24" fill="#737375"/>
<rect x="1253" y="177" width="5" height="17" fill="#225437"/>
<rect x="1254" y="178" width="3" height="15" fill="#6BA583"/>
<rect x="1262" y="168" width="1" height="21" fill="#737375"/>
<rect x="1260" y="172" width="5" height="6" fill="#225437"/>
<rect x="1261" y="173" width="3" height="4" fill="#6BA583"/>
<rect x="1268" y="149" width="1" height="28" fill="#737375"/>
<rect x="1266" y="164" width="5" height="9" fill="#225437"/>
<rect x="1267" y="165" width="3" height="7" fill="#6BA583"/>
<rect x="1275" y="162" width="1" height="29" fill="#737375"/>
<rect x="1273" y="164" width="5" height="23" fill="#5B1A13"/>
<rect x="1274" y="165" width="3" height="21" fill="#D75442"/>
<rect x="1281" y="153" width="1" height="32" fill="#737375"/>
<rect x="1279" y="157" width="5" height="27" fill="#225437"/>
<rect x="1280" y="158" width="3" height="25" fill="#6BA583"/>
<rect x="1288" y="157" width="1" height="20" fill="#737375"/>
<rect x="1286" y="157" width="5" height="16" fill="#5B1A13"/>
<rect x="1287" y="158" width="3" height="14" fill="#D75442"/>
<rect x="1294" y="156" width="1" height="25" fill="#737375"/>
<rect x="1292" y="160" width="5" height="11" fill="#225437"/>
<rect x="1293" y="161" width="3" height="9" fill="#6BA583"/>
<rect x="1301" y="155" width="1" height="10" fill="#737375"/>
<rect x="1299" y="160" width="5" height="1" fill="#5B1A13"/>
<rect x="1308" y="127" width="1" height="35" fill="#737375"/>
<rect x="1306" y="132" width="5" height="30" fill="#225437"/>
<rect x="1307" y="133" width="3" height="28" fill="#6BA583"/>
<rect x="1314" y="124" width="1" height="47" fill="#737375"/>
<rect x="1312" y="132" width="5" height="36" fill="#5B1A13"/>
<rect x="1313" y="133" width="3" height="34" fill="#D75442"/>
<rect x="1321" y="155" width="1" height="15" fill="#737375"/>
<rect x="1319" y="157" width="5" height="11" fill="#225437"/>
<rect x="1320" y="158" width="3" height="9" fill="#6BA583"/>
<rect x="1327" y="153" width="1" height="19" fill="#737375"/>
<rect x="1325" y="156" width="5" height="15" fill="#5B1A13"/>
<rect x="1326" y="157" width="3" height="13" fill="#D75442"/>
<rect x="1334" y="165" width="1" height="27" fill="#737375"/>
<rect x="1332" y="169" width="5" height="20" fill="#5B1A13"/>
<rect x="1333" y="170" width="3" height="18" fill="#D75442"/>
<rect x="1340" y="158" width="1" height="32" fill="#737375"/>
<rect x="1338" y="162" width="5" height="28" fill="#225437"/>
<rect x="1339" y="163" width="3" height="26" fill="#6BA583"/>
<rect x="1347" y="150" width="1" height="19" fill="#737375"/>
<rect x="1345" y="162" width="5" height="1" fill="#5B1A13"/>
<rect x="1353" y="151" width="1" height="19" fill="#737375"/>
<rect x="1351" y="158" width="5" height="6" fill="#225437"/>
<rect x="1352" y="159" width="3" height="4" fill="#6BA583"/>
<rect x="1360" y="153" width="1" height="16" fill="#737375"/>
<rect x="1358" y="158" width="5" height="3" fill="#5B1A13"/>
<rect x="1359" y="159" width="3" height="1" fill="#D75442"/>
<rect x="1366" y="127" width="1" height="35" fill="#737375"/>
<rect x="1364" y="138" width="5" height="23" fill="#225437"/>
<rect x="1365" y="139" width="3" height="21" fill="#6BA583"/>
<rect x="1373" y="129" width="1" height="11" fill="#737375"/>
<rect x="1371" y="135" width="5" height="1" fill="#5B1A13"/>
<rect x="1379" y="102" width="1" height="40" fill="#737375"/>
<rect x="1377" y="103" width="5" height="33" fill="#225437"/>
<rect x="1378" y="104" width="3" height="31" fill="#6BA583"/>
<rect x="1386" y="103" width="1" height="37" fill="#737375"/>
<rect x="1384" y="103" width="5" height="31" fill="#5B1A13"/>
<rect x="1385" y="104" width="3" height="29" fill="#D75442"/>
<rect x="1392" y="121" width="1" height="20" fill="#737375"/>
<rect x="1390" y="129" width="5" height="5" fill="#225437"/>
<rect x="1391" y="130" width="3" height="3" fill="#6BA583"/>
<rect x="1399" y="107" width="1" height="23" fill="#737375"/>
<rect x="1397" y="122" width="5" height="8" fill="#225437"/>
<rect x="1398" y="123" width="3" height="6" fill="#6BA583"/>
<rect x="1405" y="87" width="1" height="36" fill="#737375"/>
<rect x="1403" y="88" width="5" height="35" fill="#225437"/>
<rect x="1404" y="89" width="3" height="33" fill="#6BA583"/>
</g>
</g>
<g clip-path="url(#cc)">
<polyline points="3.0,728.3 13.7,718.3 27.0,716.1 33.7,726.1 40.0,724.6 47.0,729.6 60.0,751.6 66.2,754.1 73.0,750.3 79.5,751.1 92.5,742.1 105.5,736.1 112.0,729.8 125.5,726.8 132.5,725.8 138.5,718.1 145.5,716.0 151.5,715.2 158.5,711.1 164.5,708.1 171.5,706.9 177.5,710.3 184.5,712.6 191.5,713.1 197.5,713.7 204.5,713.2 210.5,714.1 217.5,715.8 223.5,717.6 230.5,717.7 236.5,716.9 243.5,719.2 249.5,722.6 256.5,726.7 262.5,728.8 269.5,734.8 275.5,737.1 282.5,731.5 289.5,729.8 295.5,723.7 302.5,719.2 308.5,723.5 315.5,714.7 321.5,715.6 328.5,716.7 334.5,713.9 341.5,709.3 347.5,703.2 354.5,703.0 360.5,708.0 367.5,705.3 373.5,707.5 380.5,718.1 387.5,718.1 393.5,718.2 400.5,723.3 406.5,730.1 413.5,732.0 419.5,725.4 426.5,717.6 432.5,721.3 439.5,722.4 445.5,718.8 452.5,720.2 458.5,717.9 465.5,712.1 471.5,714.6 478.5,711.5 484.5,708.6 491.5,711.2 498.5,714.3 504.5,715.1 511.5,715.6 517.5,722.3 524.5,723.3 530.5,723.4 537.5,730.4 543.5,731.1 550.5,734.2 556.5,733.4 563.5,725.2 569.5,722.3 576.5,732.0 582.5,743.1 589.5,739.2 596.5,732.1 602.5,734.3 609.5,730.9 615.5,734.2 622.5,734.5 628.5,733.3 635.5,726.8 641.5,719.3 648.5,715.7 654.5,709.6 661.5,716.4 667.5,727.9 674.5,723.6 680.5,720.6 687.5,725.4 694.5,727.6 700.5,733.4 707.5,743.8 713.5,751.3 720.5,741.3 726.5,735.0 733.5,728.8 739.5,725.0 746.5,723.6 752.5,723.4 759.5,720.9 765.5,720.8 772.5,719.5 778.5,719.5 785.5,712.7 791.5,696.2 798.5,688.3 805.5,692.7 811.5,699.1 818.5,703.0 824.5,705.3 831.5,708.2 837.5,712.6 844.5,713.6 850.5,715.4 857.5,716.7 863.5,717.8 870.5,718.5 876.5,716.8 883.5,715.3 889.5,718.6 896.5,718.5 903.5,716.9 909.5,715.1 916.5,705.6 922.5,700.9 929.5,699.5 935.5,699.6 942.5,701.4 948.5,706.1 955.5,707.0 961.5,707.1 968.5,707.6 974.5,711.6 981.5,711.0 987.5,711.5 994.5,713.4 1001.5,712.8 1007.5,714.9 1014.5,715.0 1020.5,714.0 1027.5,719.9 1033.5,724.8 1040.5,725.1 1046.5,725.1 1053.5,723.6 1059.5,725.9 1066.5,735.7 1072.5,734.1 1079.5,736.1 1085.5,737.3 1092.5,731.8 1098.5,730.8 1105.5,732.1 1112.5,725.7 1118.5,717.4 1125.5,721.8 1131.5,718.9 1138.5,710.6 1144.5,709.1 1151.5,702.5 1157.5,701.1 1164.5,707.0 1170.5,714.8 1177.5,725.1 1183.5,727.4 1190.5,725.0 1196.5,723.8 1203.5,726.7 1210.5,728.8 1216.5,730.5 1223.5,729.8 1229.5,732.5 1236.5,728.8 1242.5,722.6 1249.5,735.7 1255.5,739.6 1262.5,736.4 1268.5,732.1 1275.5,736.2 1281.5,731.5 1288.5,732.5 1294.5,730.6 1301.5,726.7 1308.5,715.1 1314.5,723.2 1321.5,726.8 1327.5,728.9 1334.5,738.6 1340.5,730.2 1347.5,723.7 1353.5,722.8 1360.5,723.5 1366.5,710.1 1373.5,702.6 1379.5,696.7 1386.5,707.2 1392.5,712.1 1399.5,709.9 1405.5,705.2" fill="none" stroke="#2962ff" stroke-width="1.15" stroke-linejoin="round"/>
</g>
<g clip-path="url(#ca)">
<polyline points="1.5,799.1 8.5,798.5 14.5,798.9 21.5,799.6 27.5,799.0 34.5,798.7 40.5,799.2 47.5,799.4 53.5,799.1 60.5,797.5 66.5,797.1 73.5,795.4 80.5,794.9 86.5,795.0 93.5,795.3 99.5,795.5 106.5,794.9 112.5,793.5 119.5,794.1 125.5,794.1 132.5,794.2 138.5,789.8 145.5,789.6 151.5,789.9 158.5,788.2 164.5,787.4 171.5,787.2 177.5,787.6 184.5,787.2 191.5,787.2 197.5,787.3 204.5,786.6 210.5,787.3 217.5,786.7 223.5,786.8 230.5,787.9 236.5,788.1 243.5,788.7 249.5,788.7 256.5,788.7 262.5,788.9 269.5,788.3 275.5,788.5 282.5,787.6 289.5,788.0 295.5,787.2 302.5,787.8 308.5,788.2 315.5,787.3 321.5,787.8 328.5,789.0 334.5,789.9 341.5,790.3 347.5,789.4 354.5,789.9 360.5,790.5 367.5,788.7 373.5,779.0 380.5,779.0 387.5,780.1 393.5,781.0 400.5,780.0 406.5,779.7 413.5,780.6 419.5,778.2 426.5,778.8 432.5,778.9 439.5,780.0 445.5,780.4 452.5,781.6 458.5,782.8 465.5,782.9 471.5,785.3 478.5,786.1 484.5,786.3 491.5,786.3 498.5,787.0 504.5,789.2 511.5,789.1 517.5,787.9 524.5,788.8 530.5,787.2 537.5,786.6 543.5,787.5 550.5,787.8 556.5,786.9 563.5,786.0 569.5,787.1 576.5,786.4 582.5,785.7 589.5,786.3 596.5,786.7 602.5,787.6 609.5,788.1 615.5,787.9 622.5,788.6 628.5,789.7 635.5,789.8 641.5,790.0 648.5,789.7 654.5,788.3 661.5,787.7 667.5,787.3 674.5,788.1 680.5,789.0 687.5,789.3 694.5,789.7 700.5,790.3 707.5,788.4 713.5,789.4 720.5,789.8 726.5,789.9 733.5,790.8 739.5,791.2 746.5,792.0 752.5,792.4 759.5,791.8 765.5,792.5 772.5,793.4 778.5,793.9 785.5,793.6 791.5,790.8 798.5,789.1 805.5,788.3 811.5,787.8 818.5,788.3 824.5,786.8 831.5,787.7 837.5,786.9 844.5,786.9 850.5,786.9 857.5,787.6 863.5,788.3 870.5,788.9 876.5,787.5 883.5,784.4 889.5,784.2 896.5,784.9 903.5,784.2 909.5,784.4 916.5,782.3 922.5,784.7 929.5,783.6 935.5,783.0 942.5,782.2 948.5,782.4 955.5,779.2 961.5,777.2 968.5,777.5 974.5,776.6 981.5,774.8 987.5,768.7 994.5,766.4 1001.5,766.9 1007.5,766.6 1014.5,767.2 1020.5,766.6 1027.5,764.0 1033.5,763.9 1040.5,765.4 1046.5,765.5 1053.5,766.7 1059.5,767.9 1066.5,766.6 1072.5,766.0 1079.5,765.8 1085.5,765.6 1092.5,765.6 1098.5,767.5 1105.5,769.4 1112.5,769.1 1118.5,769.3 1125.5,769.8 1131.5,771.0 1138.5,770.8 1144.5,771.7 1151.5,770.5 1157.5,769.9 1164.5,770.8 1170.5,769.4 1177.5,767.6 1183.5,769.1 1190.5,770.2 1196.5,771.4 1203.5,772.1 1210.5,772.6 1216.5,772.2 1223.5,771.8 1229.5,771.6 1236.5,771.9 1242.5,772.9 1249.5,766.7 1255.5,767.9 1262.5,769.4 1268.5,770.0 1275.5,770.5 1281.5,770.5 1288.5,771.9 1294.5,772.6 1301.5,774.9 1308.5,774.4 1314.5,772.8 1321.5,774.5 1327.5,775.7 1334.5,776.0 1340.5,775.8 1347.5,776.9 1353.5,777.9 1360.5,779.2 1366.5,778.4 1373.5,780.1 1379.5,778.7 1386.5,777.8 1392.5,778.7 1399.5,779.2 1405.5,778.3" fill="none" stroke="#c0302b" stroke-width="1.1" stroke-linejoin="round"/>
</g>
<g shape-rendering="crispEdges">
<rect x="1421" y="2" width="1" height="829" fill="#555"/>
<rect x="3" y="683" width="1484" height="1" fill="#e0e3eb"/>
<rect x="3" y="760" width="1484" height="1" fill="#e0e3eb"/>
<rect x="3" y="803" width="1484" height="1" fill="#555"/>
<rect x="3" y="831" width="1484" height="1" fill="#e0e3eb"/>
</g>
</svg>
<div id="axclip" style="position:absolute;left:1422px;top:2px;width:65px;height:681px;overflow:hidden;"><div style="position:absolute;left:-1422px;top:-2px;">
<div class="t" style="left:1429.80px;top:674px;font-size:12.6px;color:#555;transform:scaleX(0.9490);">1,760.00</div>
<div class="t" style="left:1429.80px;top:637px;font-size:12.6px;color:#555;transform:scaleX(0.9490);">1,800.00</div>
<div class="t" style="left:1429.80px;top:601px;font-size:12.6px;color:#555;transform:scaleX(0.9490);">1,840.00</div>
<div class="t" style="left:1429.80px;top:564px;font-size:12.6px;color:#555;transform:scaleX(0.9490);">1,880.00</div>
<div class="t" style="left:1429.80px;top:527px;font-size:12.6px;color:#555;transform:scaleX(0.9490);">1,920.00</div>
<div class="t" style="left:1429.80px;top:491px;font-size:12.6px;color:#555;transform:scaleX(0.9490);">1,960.00</div>
<div class="t" style="left:1429.80px;top:454px;font-size:12.6px;color:#555;transform:scaleX(0.9490);">2,000.00</div>
<div class="t" style="left:1429.80px;top:418px;font-size:12.6px;color:#555;transform:scaleX(0.9490);">2,040.00</div>
<div class="t" style="left:1429.80px;top:381px;font-size:12.6px;color:#555;transform:scaleX(0.9490);">2,080.00</div>
<div class="t" style="left:1429.80px;top:344px;font-size:12.6px;color:#555;transform:scaleX(0.9490);">2,120.00</div>
<div class="t" style="left:1429.80px;top:308px;font-size:12.6px;color:#555;transform:scaleX(0.9490);">2,160.00</div>
<div class="t" style="left:1429.80px;top:271px;font-size:12.6px;color:#555;transform:scaleX(0.9490);">2,200.00</div>
<div class="t" style="left:1429.80px;top:235px;font-size:12.6px;color:#555;transform:scaleX(0.9490);">2,240.00</div>
<div class="t" style="left:1429.80px;top:198px;font-size:12.6px;color:#555;transform:scaleX(0.9490);">2,280.00</div>
<div class="t" style="left:1429.80px;top:161px;font-size:12.6px;color:#555;transform:scaleX(0.9490);">2,320.00</div>
<div class="t" style="left:1429.80px;top:125px;font-size:12.6px;color:#555;transform:scaleX(0.9490);">2,360.00</div>
<div class="t" style="left:1429.80px;top:88px;font-size:12.6px;color:#555;transform:scaleX(0.9490);">2,400.00</div>
<div class="t" style="left:1429.80px;top:52px;font-size:12.6px;color:#555;transform:scaleX(0.9490);">2,440.00</div>
<div class="t" style="left:1429.80px;top:15px;font-size:12.6px;color:#555;transform:scaleX(0.9490);">2,480.00</div>
</div></div>
<div class="t" style="left:1429.37px;top:719px;font-size:12.6px;color:#555;transform:scaleX(0.9820);">0.00</div>
<div class="t" style="left:1429.60px;top:780px;font-size:12.6px;color:#555;transform:scaleX(0.9465);">25.00</div>
<div class="lb" style="top:41px"></div>
<div class="t" style="left:1429.68px;top:43px;font-size:12.6px;color:#fff;font-weight:bold;transform:scaleX(0.9557);">2,450.56</div>
<div class="lb" style="top:199px"></div>
<div class="t" style="left:1429.68px;top:201px;font-size:12.6px;color:#fff;font-weight:bold;transform:scaleX(0.9557);">2,277.73</div>
<div class="lb" style="top:276px"></div>
<div class="t" style="left:1429.68px;top:278px;font-size:12.6px;color:#fff;font-weight:bold;transform:scaleX(0.9557);">2,193.44</div>
<div class="lb" style="top:318px"></div>
<div class="t" style="left:1429.68px;top:320px;font-size:12.6px;color:#fff;font-weight:bold;transform:scaleX(0.9557);">2,147.28</div>
<div class="lb" style="top:464px"></div>
<div class="t" style="left:1429.68px;top:466px;font-size:12.6px;color:#fff;font-weight:bold;transform:scaleX(0.9557);">1,987.90</div>
<div class="lb" style="top:481px"></div>
<div class="t" style="left:1429.68px;top:483px;font-size:12.6px;color:#fff;font-weight:bold;transform:scaleX(0.9557);">1,972.75</div>
<div class="lb" style="top:519px"></div>
<div class="t" style="left:1429.68px;top:521px;font-size:12.6px;color:#fff;font-weight:bold;transform:scaleX(0.9557);">1,928.04</div>
<div class="lb" style="top:627px"></div>
<div class="t" style="left:1429.68px;top:629px;font-size:12.6px;color:#fff;font-weight:bold;transform:scaleX(0.9557);">1,810.48</div>
<div class="lb" style="top:80px;background:#6BA583"></div>
<div class="t" style="left:1429.43px;top:83px;font-size:12.6px;color:#e1eee6;font-weight:bold;transform:scaleX(0.9382);">09:09:52</div>
<div style="position:absolute;left:1425px;top:6px;width:56px;height:24px;border:1px solid #e0e3eb;border-radius:3px;background:#fff;"></div>
<div class="t" style="left:1428.55px;top:13px;font-size:12.6px;color:#131722;transform:scaleX(0.7897);">USD</div>
<svg style="position:absolute;left:1470px;top:15px" width="10" height="8" viewBox="0 0 10 8"><path d="M3.2 3.3 L5.5 5.6 L7.8 3.3" fill="none" stroke="#131722" stroke-width="1.4"/></svg>
<div class="bg" style="left:8px;top:7px;width:676px;height:23px"></div>
<svg style="position:absolute;left:12px;top:9px" width="18" height="18" viewBox="0 0 18 18"><circle cx="9" cy="8.95" r="8.95" fill="#d69a0c"/><path d="M7.26 5.04H11.05L12.1 7.74H5.8z M4 9.2H7.1L8.2 11.9H2.2z M11.05 9.2H14.1L15.9 11.9H9.97z" fill="#fff"/></svg>
<div class="t" style="left:33.73px;top:10px;font-size:15px;color:#4f4f4f;transform:scaleX(0.8934);">CFDs</div>
<div class="t" style="left:72.63px;top:10px;font-size:15px;color:#4f4f4f;transform:scaleX(1.1155);">on</div>
<div class="t" style="left:95.23px;top:10px;font-size:15px;color:#4f4f4f;transform:scaleX(1.0300);">Gold</div>
<div class="t" style="left:133.38px;top:10px;font-size:15px;color:#4f4f4f;transform:scaleX(0.9152);">(US$</div>
<div class="t" style="left:172.00px;top:10px;font-size:15px;color:#4f4f4f;transform:scaleX(0.9524);">/</div>
<div class="t" style="left:183.02px;top:10px;font-size:15px;color:#4f4f4f;transform:scaleX(1.0041);">OZ)</div>
<div class="t" style="left:220.92px;top:10px;font-size:15px;color:#4f4f4f;transform:scaleX(0.9639);">1D</div>
<div class="t" style="left:251.52px;top:10px;font-size:15px;color:#4f4f4f;transform:scaleX(0.9254);">TVC</div>
<div class="t" style="left:211.23px;top:10px;font-size:15px;color:#4f4f4f;transform:scaleX(1.2000);">·</div>
<div class="t" style="left:242.13px;top:10px;font-size:15px;color:#4f4f4f;transform:scaleX(1.2000);">·</div>
<div style="position:absolute;left:293.7px;top:8.6px;width:18px;height:18px;border-radius:9px;background:#d4ede8"></div>
<div style="position:absolute;left:298.7px;top:13.6px;width:8px;height:8px;border-radius:4px;background:#089981"></div>
<div class="t" style="left:328.29px;top:13px;font-size:12.6px;color:#555;transform:scaleX(0.9037);">O</div>
<div class="t" style="left:338.26px;top:13px;font-size:12.6px;color:#1f6b50;transform:scaleX(1.0194);">2,371.04</div>
<div class="t" style="left:393.84px;top:13px;font-size:12.6px;color:#555;transform:scaleX(1.0488);">H</div>
<div class="t" style="left:403.24px;top:13px;font-size:12.6px;color:#1f6b50;transform:scaleX(1.0436);">2,408.91</div>
<div class="t" style="left:460.52px;top:13px;font-size:12.6px;color:#555;transform:scaleX(0.8739);">L</div>
<div class="t" style="left:467.24px;top:13px;font-size:12.6px;color:#1f6b50;transform:scaleX(1.0423);">2,371.04</div>
<div class="t" style="left:524.26px;top:13px;font-size:12.6px;color:#555;transform:scaleX(0.8499);">C</div>
<div class="t" style="left:532.34px;top:13px;font-size:12.6px;color:#1f6b50;transform:scaleX(1.0506);">2,407.74</div>
<div class="t" style="left:590.03px;top:13px;font-size:12.6px;color:#1f6b50;transform:scaleX(1.0003);">+36.84</div>
<div class="t" style="left:633.18px;top:13px;font-size:12.6px;color:#1f6b50;transform:scaleX(0.9576);">(+1.55%)</div>
<div class="bg" style="left:8px;top:33px;width:166px;height:26px"></div>
<div style="position:absolute;left:11px;top:34px;width:64px;height:22px;border:1px solid #f23645;border-radius:4px;background:#fff"></div>
<div class="t" style="left:18.65px;top:41px;font-size:12.6px;color:#f23645;transform:scaleX(1.0381);">2,407.74</div>
<div class="t" style="left:85.40px;top:41px;font-size:10.5px;color:#222;transform:scaleX(0.9570);">50</div>
<div style="position:absolute;left:91px;top:49px;width:10px;height:1px;background:#555"></div>
<div style="position:absolute;left:77px;top:49px;width:2px;height:1px;background:#777"></div>
<div style="position:absolute;left:105px;top:34px;width:64px;height:22px;border:1px solid #2962ff;border-radius:4px;background:#fff"></div>
<div class="t" style="left:113.25px;top:41px;font-size:12.6px;color:#2962ff;transform:scaleX(1.0277);">2,408.24</div>
<div class="bg" style="left:8px;top:66.5px;width:140.1px;height:18px"></div>
<div class="t" style="left:11.75px;top:69px;font-size:12.6px;color:#555;transform:scaleX(0.9700);">SMA 20 close</div>
<div class="t" style="left:93.85px;top:69px;font-size:12.6px;color:#f23645;transform:scaleX(1.0359);">2,342.63</div>
<div class="bg" style="left:8px;top:90.5px;width:140.3px;height:18px"></div>
<div class="t" style="left:11.75px;top:93px;font-size:12.6px;color:#555;transform:scaleX(0.9700);">SMA 50 close</div>
<div class="t" style="left:94.05px;top:93px;font-size:12.6px;color:#2d2dff;transform:scaleX(1.0346);">2,344.80</div>
<div class="bg" style="left:8px;top:114.5px;width:147.2px;height:18px"></div>
<div class="t" style="left:11.75px;top:117px;font-size:12.6px;color:#555;transform:scaleX(0.9690);">SMA 200 close</div>
<div class="t" style="left:100.85px;top:117px;font-size:12.6px;color:#131722;transform:scaleX(1.0380);">2,146.43</div>
<div class="bg" style="left:8px;top:692.5px;width:156.4px;height:18px"></div>
<div class="t" style="left:11.70px;top:695px;font-size:12.6px;color:#555;transform:scaleX(0.9594);">CCI 20 hlc3 SMA 5</div>
<div class="t" style="left:122.05px;top:695px;font-size:12.6px;color:#2962ff;transform:scaleX(1.0079);">180.63</div>
<div class="t" style="left:12.30px;top:772px;font-size:12.6px;color:#555;transform:scaleX(0.9131);">ATR 14 RMA</div>
<div class="t" style="left:87.76px;top:772px;font-size:12.6px;color:#c0302b;transform:scaleX(1.0047);">30.36</div>
<div style="position:absolute;left:12px;top:136px;width:27px;height:19px;border:1px solid #d3d6e2;border-radius:3px;background:#fff"></div>
<svg style="position:absolute;left:12px;top:136px" width="30" height="22" viewBox="0 0 30 22"><path d="M10.1 12.5 L14.5 8.3 L18.7 12.5" fill="none" stroke="#1a1a1a" stroke-width="1.3"/></svg>
<svg style="position:absolute;left:15.1px;top:770.3px" width="32" height="20" viewBox="0 0 38 23.7"><g fill="rgb(80,83,94)" opacity="0.66"><path d="M14 22H7V11H0V4h14v18zM28 22h-8l7.5-18h8L28 22z"/><circle cx="20" cy="8" r="4"/></g></svg>
<div class="t" style="left:69.94px;top:811px;font-size:12px;color:#555;transform:scaleX(1.0354);">Oct</div>
<div class="t" style="left:212.80px;top:811px;font-size:12px;color:#555;transform:scaleX(0.9390);">Nov</div>
<div class="t" style="left:356.31px;top:811px;font-size:12px;color:#555;transform:scaleX(0.9254);">Dec</div>
<div class="t" style="left:490.26px;top:811px;font-size:12px;color:#333;font-weight:bold;transform:scaleX(1.0374);">2024</div>
<div class="t" style="left:643.34px;top:811px;font-size:12px;color:#555;transform:scaleX(1.0000);">Feb</div>
<div class="t" style="left:781.39px;top:811px;font-size:12px;color:#555;transform:scaleX(0.9509);">Mar</div>
<div class="t" style="left:920.10px;top:811px;font-size:12px;color:#555;transform:scaleX(0.9493);">Apr</div>
<div class="t" style="left:1061.51px;top:811px;font-size:12px;color:#555;transform:scaleX(0.9300);">May</div>
<div class="t" style="left:1214.64px;top:811px;font-size:12px;color:#555;transform:scaleX(0.9012);">Jun</div>
<div class="t" style="left:1346.93px;top:811px;font-size:12px;color:#555;transform:scaleX(0.9484);">Jul</div>
<svg style="position:absolute;left:0;top:0;pointer-events:none" width="1489" height="833" viewBox="0 0 1489 833"><defs><mask id="lm"><rect x="1390" y="655" width="32" height="32" fill="#fff"/><circle cx="1412.4" cy="663.5" r="4.4" fill="#000"/></mask></defs><circle cx="1405.4" cy="670.4" r="9.7" fill="none" stroke="#9c27b0" stroke-width="1.7" mask="url(#lm)"/><path d="M1407.8 665.4 L1401.1 670.8 L1405.3 670.8 L1402.3 675.7 L1409.7 670.2 L1405.7 670.2 Z" fill="#9c27b0" stroke="#9c27b0" stroke-width="0.4" stroke-linejoin="round"/><circle cx="1412.4" cy="663.5" r="2.5" fill="#f23645"/><path d="M1447.2 817.4 L1450.5 811.4 L1458.3 811.4 L1461.8 817.4 L1458.3 823.4 L1450.5 823.4 Z" fill="none" stroke="#222" stroke-width="1.1" stroke-linejoin="round"/><circle cx="1454.4" cy="817.4" r="1.9" fill="none" stroke="#222" stroke-width="1.1"/></svg>
</div></body></html>
